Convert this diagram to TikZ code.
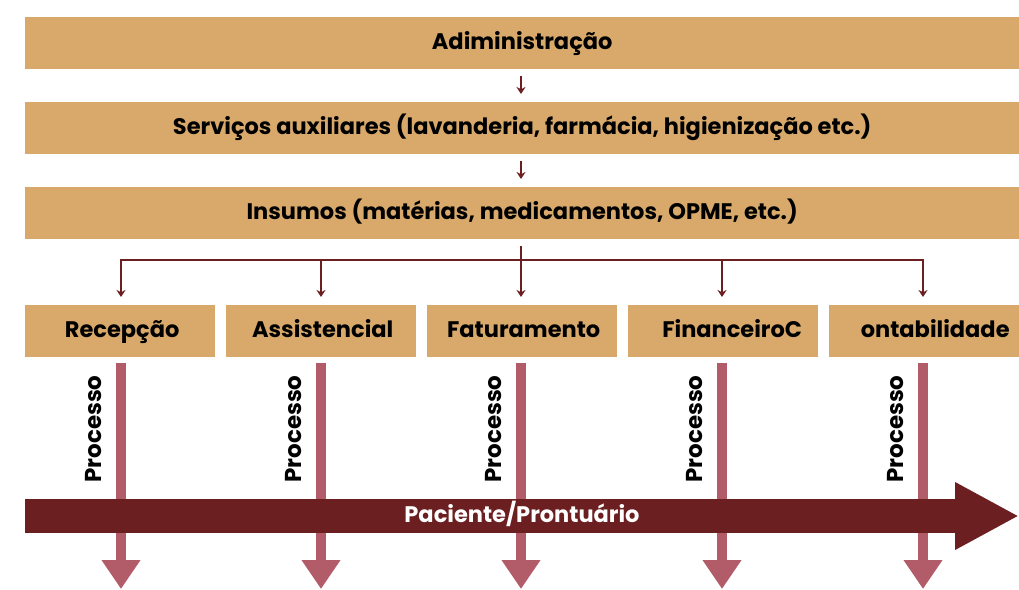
\documentclass[tikz,border=0pt]{standalone}
\usepackage{fontspec}
\setmainfont{Poppins}
\usetikzlibrary{arrows.meta}
\definecolor{tan}{RGB}{216,169,107}
\definecolor{maroon}{RGB}{107,31,32}
\definecolor{rose}{RGB}{179,92,105}
\tikzset{
  txt/.style={font=\bfseries\fontsize{22.5}{24}\selectfont, text height=1.2em, text depth=0em},
  topbox/.style={txt, fill=tan, draw=none, anchor=north west, minimum width=994pt, minimum height=52pt, inner sep=0pt},
  deptbox/.style={txt, fill=tan, draw=none, anchor=north west, minimum width=190pt, minimum height=52pt, inner sep=0pt},
  smallarrow/.style={draw=maroon, line width=1.8pt, -{Stealth[length=7pt,width=9pt]}},
  branch/.style={draw=maroon, line width=1.8pt},
  procarrow/.style={draw=rose, line width=10pt, -{Triangle[length=29pt,width=37pt]}},
  proclabel/.style={rotate=90, inner sep=0pt, font=\bfseries\fontsize{23}{24}\selectfont},
  bigarrow/.style={draw=maroon, line width=34pt, -{Triangle[length=64pt,width=63pt]}},
}
\begin{document}
\begin{tikzpicture}[x=1pt,y=-1pt]
\useasboundingbox (0,0) rectangle (1019,589);
\node[topbox] (adm) at (25,17) {Adiministração};
\node[topbox] (serv) at (25,102) {Serviços auxiliares (lavanderia, farmácia, higienização etc.)};
\node[topbox] (ins) at (25,187) {Insumos (matérias, medicamentos, OPME, etc.)};
\draw[smallarrow] (521,76) coordinate (a1s) -- (521,94) coordinate (a1e);
\draw[smallarrow] (521,161) coordinate (a2s) -- (521,179) coordinate (a2e);

\node[deptbox] (rec) at (25,305) {\hspace*{4pt}Recepção};
\node[deptbox] (ass) at (226,305) {\hspace*{3pt}Assistencial};
\node[deptbox] (fat) at (427,305) {\hspace*{3pt}Faturamento};
\node[deptbox] (fin) at (628,305) {\hspace*{18pt}FinanceiroC};
\node[deptbox] (con) at (829,305) {\hspace*{22pt}ontabilidade};

\coordinate (bl) at (121,260);
\coordinate (br) at (923,260);
\draw[branch] (521,246) -- (521,260);
\draw[branch] (bl) -- (br);
\foreach \x/\n in {121/rec,321/ass,521/fat,722/fin,923/con}{
  \draw[smallarrow] (\x,259.1) -- (\x,297);
}

\foreach \x/\n in {121/rec,321/ass,521/fat,722/fin,923/con}{
  \draw[procarrow] (\x,363) coordinate (p\n) -- (\x,589);
  \node[proclabel] at (\x-27,429) {Processo};
}

\coordinate (pstart) at (25,516);
\coordinate (pend) at (1019,516);
\draw[bigarrow] (pstart) -- (pend);
\node[txt, text=white] (pac) at (522,516) {Paciente/Prontuário};
\end{tikzpicture}
\end{document}
